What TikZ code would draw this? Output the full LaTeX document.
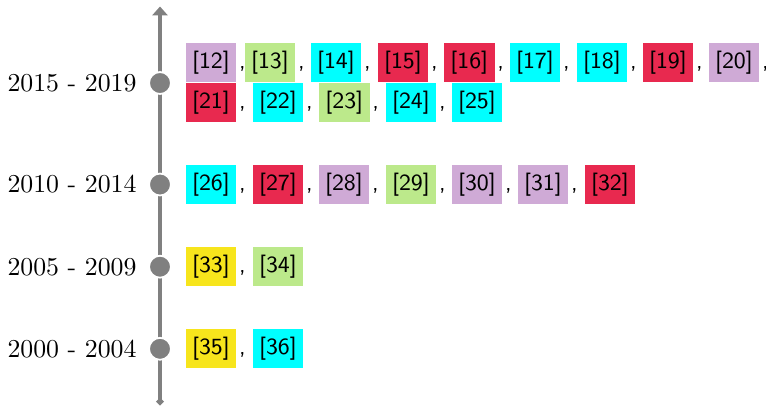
\documentclass[tikz,border=0pt]{standalone}
\usetikzlibrary{arrows.meta}
\definecolor{cpurple}{RGB}{207,170,214}
\definecolor{cgreen}{RGB}{188,233,139}
\definecolor{ccyan}{RGB}{0,255,255}
\definecolor{cred}{RGB}{232,41,79}
\definecolor{cyellow}{RGB}{247,229,28}
\definecolor{axisgray}{RGB}{128,128,128}
\begin{document}
\begin{tikzpicture}[x=0.3876pt,y=-0.3876pt,
  refbox/.style={anchor=west, font=\small\sffamily, inner xsep=2.55pt, inner ysep=3pt,
    text height=6.75pt, text depth=2.25pt, text=black},
  sepc/.style={anchor=base west, font=\small\sffamily, inner sep=0pt, xshift=0.6pt},
  yearlbl/.style={anchor=east, inner sep=0pt, font=\normalsize},
  yeardot/.style={circle, fill=axisgray, draw=white, line width=0.7pt, minimum size=8.5pt, inner sep=0pt},
  axisline/.style={draw=axisgray, line width=1.3pt,
    arrows={Circle[length=2.6pt]-Triangle[width=5.8pt,length=3.4pt]}}]
\useasboundingbox (0,0) rectangle (766,407);
% axis
\coordinate (bot) at (160,405);
\coordinate (top) at (160,6.5);
\draw[axisline] (bot) -- (top);
% dots and labels
\node[yeardot] (d1) at (160,83) {};
\node[yeardot] (d2) at (160,184.5) {};
\node[yeardot] (d3) at (160,266.7) {};
\node[yeardot] (d4) at (160,348.8) {};
\node[yearlbl] (y1) at (137,83) {2015 - 2019};
\node[yearlbl] (y2) at (137,184.5) {2010 - 2014};
\node[yearlbl] (y3) at (137,266.7) {2005 - 2009};
\node[yearlbl] (y4) at (137,348.8) {2000 - 2004};
% 2015 - 2019, row 1
\foreach \n/\x/\c in {12/185/cpurple,13/244/cgreen,14/310/ccyan,15/377/cred,16/443.3/cred,
  17/509/ccyan,18/576/ccyan,19/642/cred,20/708/cpurple}{
  \node[refbox, fill=\c] (b\n) at (\x,62.7) {[\n]};
  \node[sepc] (s\n) at (b\n.base east) {,};
}
% 2015 - 2019, row 2
\foreach \n/\x/\c in {21/185/cred,22/252/ccyan,23/318.3/cgreen,24/385/ccyan,25/451/ccyan}{
  \node[refbox, fill=\c] (b\n) at (\x,102.7) {[\n]};
}
\foreach \n in {21,22,23,24}{\node[sepc] (s\n) at (b\n.base east) {,};}
% 2010 - 2014
\foreach \n/\x/\c in {26/185/ccyan,27/252/cred,28/318/cpurple,29/385/cgreen,30/451/cpurple,
  31/517/cpurple,32/584/cred}{
  \node[refbox, fill=\c] (b\n) at (\x,184.5) {[\n]};
}
\foreach \n in {26,27,28,29,30,31}{\node[sepc] (s\n) at (b\n.base east) {,};}
% 2005 - 2009
\node[refbox, fill=cyellow] (b33) at (185,266.7) {[33]};
\node[refbox, fill=cgreen] (b34) at (252,266.7) {[34]};
\node[sepc] (s33) at (b33.base east) {,};
% 2000 - 2004
\node[refbox, fill=cyellow] (b35) at (185,348.8) {[35]};
\node[refbox, fill=ccyan] (b36) at (252,348.8) {[36]};
\node[sepc] (s35) at (b35.base east) {,};
\end{tikzpicture}
\end{document}
